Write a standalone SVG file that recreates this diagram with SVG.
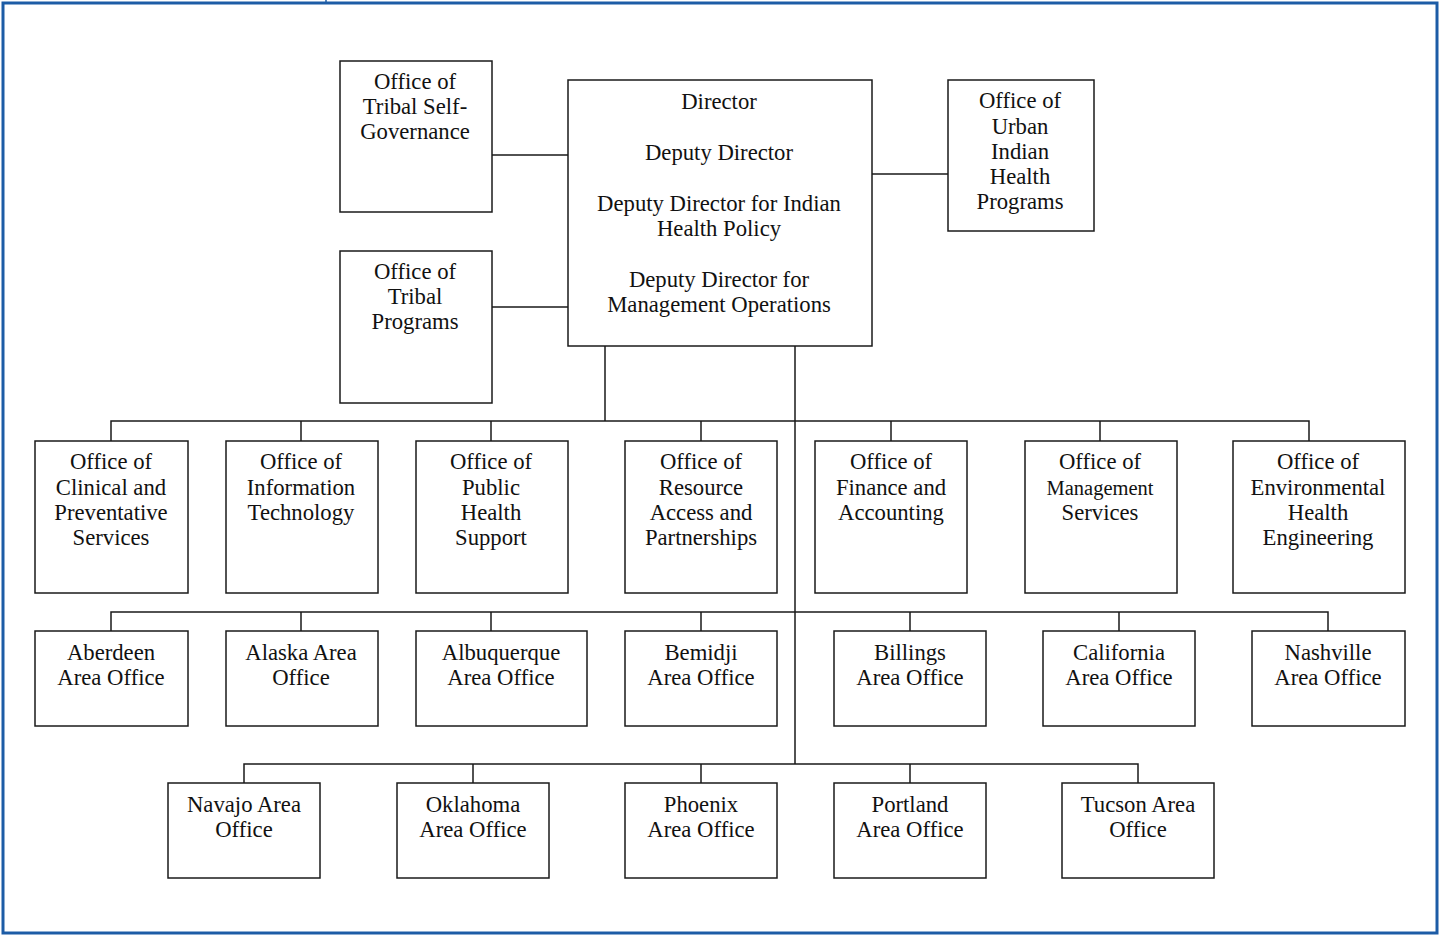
<svg xmlns="http://www.w3.org/2000/svg" width="1440" height="936" viewBox="0 0 1440 936">
<style>
.box{fill:#fff;stroke:#1a1a1a;stroke-width:1.5}
.ln{fill:none;stroke:#1a1a1a;stroke-width:1.5}
text{font-family:"Liberation Serif","Times New Roman",serif;font-size:22.7px;fill:#111;text-anchor:middle}
.sm{font-size:20.5px}
</style>
<rect x="0" y="0" width="1440" height="936" fill="#fff"/>
<rect x="3" y="3" width="1434" height="930" fill="none" stroke="#1c5ca6" stroke-width="3"/>
<line x1="326" y1="0" x2="326" y2="3" stroke="#1c5ca6" stroke-width="1.5"/>
<g id="connectors" class="ln">
<path d="M492 155H568M492 307H568M872 174H948"/>
<path d="M605 346V421M795 346V764"/>
<path d="M111 441V421H1309V441M301 421V441M491 421V441M701 421V441M891 421V441M1100 421V441"/>
<path d="M111 631V612H1328V631M301 612V631M491 612V631M701 612V631M910 612V631M1119 612V631"/>
<path d="M244 783V764H1138V783M473 764V783M701 764V783M910 764V783"/>
</g>
<g id="tribal-self-governance"><rect class="box" x="340" y="61" width="152" height="151"/><text x="415" y="89">Office of</text><text x="415" y="114">Tribal Self-</text><text x="415" y="139">Governance</text></g>
<g id="tribal-programs"><rect class="box" x="340" y="251" width="152" height="152"/><text x="415" y="279">Office of</text><text x="415" y="304">Tribal</text><text x="415" y="329">Programs</text></g>
<g id="director"><rect class="box" x="568" y="80" width="304" height="266"/><text x="719" y="109">Director</text><text x="719" y="160">Deputy Director</text><text x="719" y="211">Deputy Director for Indian</text><text x="719" y="236">Health Policy</text><text x="719" y="287">Deputy Director for</text><text x="719" y="312">Management Operations</text></g>
<g id="urban-indian"><rect class="box" x="948" y="80" width="146" height="151"/><text x="1020" y="108">Office of</text><text x="1020" y="134">Urban</text><text x="1020" y="159">Indian</text><text x="1020" y="184">Health</text><text x="1020" y="209">Programs</text></g>
<g id="clinical"><rect class="box" x="35" y="441" width="153" height="152"/><text x="111" y="469">Office of</text><text x="111" y="495">Clinical and</text><text x="111" y="520">Preventative</text><text x="111" y="545">Services</text></g>
<g id="it"><rect class="box" x="226" y="441" width="152" height="152"/><text x="301" y="469">Office of</text><text x="301" y="495">Information</text><text x="301" y="520">Technology</text></g>
<g id="public-health"><rect class="box" x="416" y="441" width="152" height="152"/><text x="491" y="469">Office of</text><text x="491" y="495">Public</text><text x="491" y="520">Health</text><text x="491" y="545">Support</text></g>
<g id="resource-access"><rect class="box" x="625" y="441" width="152" height="152"/><text x="701" y="469">Office of</text><text x="701" y="495">Resource</text><text x="701" y="520">Access and</text><text x="701" y="545">Partnerships</text></g>
<g id="finance"><rect class="box" x="815" y="441" width="152" height="152"/><text x="891" y="469">Office of</text><text x="891" y="495">Finance and</text><text x="891" y="520">Accounting</text></g>
<g id="management"><rect class="box" x="1025" y="441" width="152" height="152"/><text x="1100" y="469">Office of</text><text class="sm" x="1100" y="495">Management</text><text x="1100" y="520">Services</text></g>
<g id="environmental"><rect class="box" x="1233" y="441" width="172" height="152"/><text x="1318" y="469">Office of</text><text x="1318" y="495">Environmental</text><text x="1318" y="520">Health</text><text x="1318" y="545">Engineering</text></g>
<g id="aberdeen"><rect class="box" x="35" y="631" width="153" height="95"/><text x="111" y="660">Aberdeen</text><text x="111" y="685">Area Office</text></g>
<g id="alaska"><rect class="box" x="226" y="631" width="152" height="95"/><text x="301" y="660">Alaska Area</text><text x="301" y="685">Office</text></g>
<g id="albuquerque"><rect class="box" x="416" y="631" width="171" height="95"/><text x="501" y="660">Albuquerque</text><text x="501" y="685">Area Office</text></g>
<g id="bemidji"><rect class="box" x="625" y="631" width="152" height="95"/><text x="701" y="660">Bemidji</text><text x="701" y="685">Area Office</text></g>
<g id="billings"><rect class="box" x="834" y="631" width="152" height="95"/><text x="910" y="660">Billings</text><text x="910" y="685">Area Office</text></g>
<g id="california"><rect class="box" x="1043" y="631" width="152" height="95"/><text x="1119" y="660">California</text><text x="1119" y="685">Area Office</text></g>
<g id="nashville"><rect class="box" x="1252" y="631" width="153" height="95"/><text x="1328" y="660">Nashville</text><text x="1328" y="685">Area Office</text></g>
<g id="navajo"><rect class="box" x="168" y="783" width="152" height="95"/><text x="244" y="812">Navajo Area</text><text x="244" y="837">Office</text></g>
<g id="oklahoma"><rect class="box" x="397" y="783" width="152" height="95"/><text x="473" y="812">Oklahoma</text><text x="473" y="837">Area Office</text></g>
<g id="phoenix"><rect class="box" x="625" y="783" width="152" height="95"/><text x="701" y="812">Phoenix</text><text x="701" y="837">Area Office</text></g>
<g id="portland"><rect class="box" x="834" y="783" width="152" height="95"/><text x="910" y="812">Portland</text><text x="910" y="837">Area Office</text></g>
<g id="tucson"><rect class="box" x="1062" y="783" width="152" height="95"/><text x="1138" y="812">Tucson Area</text><text x="1138" y="837">Office</text></g>
</svg>
